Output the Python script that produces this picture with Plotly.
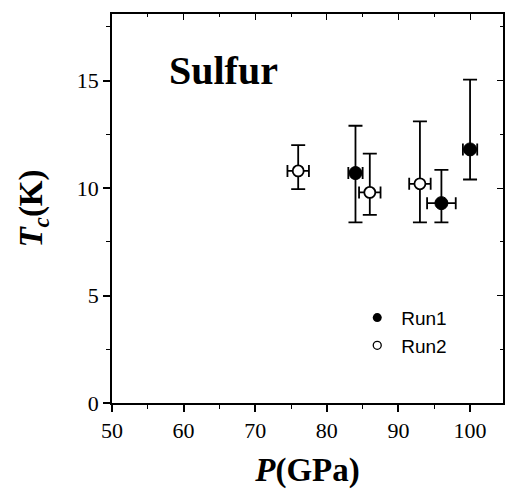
import plotly.graph_objects as go

# Data
run1_p = [84, 96, 100]
run1_tc = [10.7, 9.3, 11.8]
run1_perr = [1.0, 2.0, 1.0]
run1_tc_plus = [2.2, 1.55, 3.25]
run1_tc_minus = [2.3, 0.9, 1.4]

run2_p = [76, 86, 93]
run2_tc = [10.8, 9.8, 10.2]
run2_perr = [1.5, 1.5, 1.5]
run2_tc_plus = [1.2, 1.8, 2.9]
run2_tc_minus = [0.85, 1.05, 1.8]

x_ticks = [50, 60, 70, 80, 90, 100]
y_ticks = [0, 5, 10, 15]

serif = "Liberation Serif"
sans = "Liberation Sans"

fig = go.Figure()

def err(arr, arrm, w):
    return dict(type="data", symmetric=False, array=arr, arrayminus=arrm,
                color="black", thickness=1.8, width=w)

fig.add_trace(go.Scatter(
    x=run2_p, y=run2_tc, mode="markers", showlegend=False,
    marker=dict(symbol="circle", size=11, color="white", line=dict(color="black", width=1.8)),
    error_y=err(run2_tc_plus, run2_tc_minus, 7),
    error_x=dict(type="data", array=run2_perr, color="black", thickness=1.8, width=6),
))
fig.add_trace(go.Scatter(
    x=run1_p, y=run1_tc, mode="markers", showlegend=False,
    marker=dict(symbol="circle", size=13, color="black", line=dict(color="black", width=1)),
    error_y=err(run1_tc_plus, run1_tc_minus, 7),
    error_x=dict(type="data", array=run1_perr, color="black", thickness=1.8, width=6),
))
# legend entries
fig.add_trace(go.Scatter(x=[None], y=[None], mode="markers", name="Run1", legendgroup="a",
                         marker=dict(symbol="circle", size=9, color="black")))
fig.add_trace(go.Scatter(x=[None], y=[None], mode="markers", name="Run2", legendgroup="b",
                         marker=dict(symbol="circle", size=8, color="white",
                                     line=dict(color="black", width=1.3))))
# overlay axes for inward mirrored ticks
fig.add_trace(go.Scatter(x=[None], y=[None], xaxis="x2", yaxis="y2", showlegend=False,
                         hoverinfo="skip"))

xr = [50, 104.6]
yr = [0, 18.1]

fig.update_layout(
    width=506, height=489,
    margin=dict(l=112, r=3, t=14, b=86),
    paper_bgcolor="white", plot_bgcolor="white",
    showlegend=True,
    legend=dict(x=0.617, y=0.268, xanchor="left", yanchor="top",
                font=dict(family=sans, size=19, color="black"),
                bgcolor="rgba(0,0,0,0)", traceorder="grouped", tracegroupgap=0, itemwidth=38),
    xaxis=dict(range=xr, tickvals=x_ticks, ticks="outside", ticklen=7, tickwidth=1.5,
               tickcolor="black", showline=True, linecolor="black", linewidth=1.8,
               showgrid=False, zeroline=False, automargin=False,
               minor=dict(ticks="outside", ticklen=4, dtick=5, tick0=50, tickcolor="black", tickwidth=1.2),
               tickfont=dict(family=serif, size=22, color="black"),
               title=dict(text="<b><i>P</i>(GPa)</b>", font=dict(family=serif, size=33, color="black"),
                          standoff=23)),
    yaxis=dict(range=yr, tickvals=y_ticks, ticks="outside", ticklen=7, tickwidth=1.5,
               tickcolor="black", showline=True, linecolor="black", linewidth=1.8,
               showgrid=False, zeroline=False, automargin=False,
               minor=dict(ticks="outside", ticklen=4, dtick=2.5, tick0=0, tickcolor="black", tickwidth=1.2),
               tickfont=dict(family=serif, size=22, color="black"),
               title=dict(text="<b><i>T<sub>c</sub></i>(K)</b>", font=dict(family=serif, size=33, color="black"),
                          standoff=24)),
    xaxis2=dict(range=xr, overlaying="x", side="top", tickvals=x_ticks, ticks="inside",
                ticklen=6, tickwidth=1.2, tickcolor="black", showticklabels=False,
                showline=True, linecolor="black", linewidth=1.8, showgrid=False, zeroline=False,
                minor=dict(ticks="inside", ticklen=3, dtick=5, tick0=50, tickcolor="black")),
    yaxis2=dict(range=yr, overlaying="y", side="right", tickvals=y_ticks, ticks="inside",
                ticklen=6, tickwidth=1.2, tickcolor="black", showticklabels=False,
                showline=True, linecolor="black", linewidth=1.8, showgrid=False, zeroline=False,
                minor=dict(ticks="inside", ticklen=3, dtick=2.5, tick0=0, tickcolor="black")),
    annotations=[dict(text="<b>Sulfur</b>", x=0.14, y=0.855, xref="paper", yref="paper",
                      xanchor="left", yanchor="middle", showarrow=False,
                      font=dict(family=serif, size=40, color="black"))],
)

fig.write_html("out.html")
